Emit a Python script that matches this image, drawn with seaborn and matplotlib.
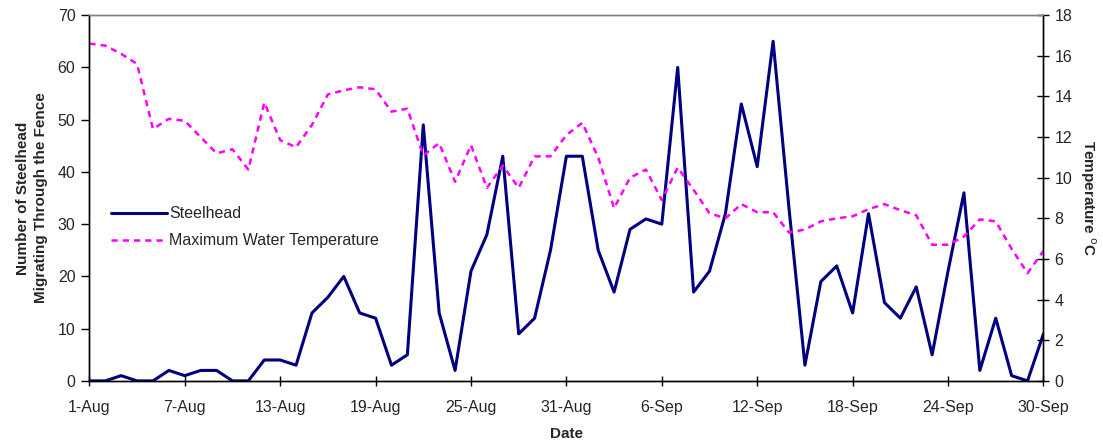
import matplotlib
matplotlib.use('Agg')
import matplotlib.pyplot as plt
import numpy as np
import pandas as pd
import seaborn as sns

# daily counts, 1-Aug .. 30-Sep
dates = pd.date_range('2001-08-01', '2001-09-30', freq='D')
steelhead = [0, 0, 1, 0, 0, 2, 1, 2, 2, 0,
             0, 4, 4, 3, 13, 16, 20, 13, 12, 3,
             5, 49, 13, 2, 21, 28, 43, 9, 12, 25,
             43, 43, 25, 17, 29, 31, 30, 60, 17, 21,
             32, 53, 41, 65, 33, 3, 19, 22, 13, 32,
             15, 12, 18, 5, 21, 36, 2, 12, 1, 0,
             9]
max_temp = [16.6, 16.5, 16.1, 15.6, 12.4, 12.9, 12.8, 12.0, 11.2, 11.4,
            10.4, 13.7, 11.85, 11.5, 12.6, 14.1, 14.3, 14.45, 14.35, 13.25,
            13.4, 11.1, 11.7, 9.8, 11.6, 9.5, 10.6, 9.5, 11.05, 11.05,
            12.1, 12.7, 11.0, 8.5, 10.0, 10.4, 8.9, 10.5, 9.4, 8.25,
            8.0, 8.7, 8.3, 8.3, 7.3, 7.45, 7.85, 8.0, 8.1, 8.45,
            8.7, 8.4, 8.15, 6.7, 6.7, 7.1, 7.95, 7.85, 6.5, 5.3,
            6.4]
tick_dates = pd.date_range('2001-08-01', '2001-09-30', freq='6D')
tick_labels = ['1-Aug', '7-Aug', '13-Aug', '19-Aug', '25-Aug', '31-Aug',
               '6-Sep', '12-Sep', '18-Sep', '24-Sep', '30-Sep']

df = pd.DataFrame({'date': dates, 'steelhead': steelhead, 'temp': max_temp})

sns.set_style('white')
plt.rcParams['font.family'] = ['Liberation Sans', 'DejaVu Sans']
plt.rcParams['font.size'] = 11.5

fig, ax = plt.subplots(figsize=(11.03, 4.46), dpi=100)
fig.subplots_adjust(left=0.081, right=0.946, top=0.966, bottom=0.146)
ax2 = ax.twinx()

sns.lineplot(data=df, x='date', y='steelhead', ax=ax, color='#000080',
             linewidth=2.2, label='Steelhead', legend=False)
sns.lineplot(data=df, x='date', y='temp', ax=ax2, color='#ff00ff',
             linewidth=1.8, linestyle=(0, (2.5, 2.0)), legend=False,
             label='Maximum Water Temperature')

ax.set_xlim(dates[0], dates[-1])
ax.set_ylim(0, 70)
ax.set_yticks(range(0, 71, 10))
ax2.set_ylim(0, 18)
ax2.set_yticks(range(0, 19, 2))
ax.set_xticks(tick_dates)
ax.set_xticklabels(tick_labels)

ax.set_xlabel('Date', fontweight='bold', fontsize=11, labelpad=9)
ax.set_ylabel('Number of Steelhead\nMigrating Through the Fence', fontweight='bold',
              fontsize=11, linespacing=1.35, labelpad=7)
ax2.set_ylabel('Temperature $^{\\mathrm{o}}$C', fontweight='bold', fontsize=11,
               rotation=-90, labelpad=18)

for a in (ax, ax2):
    for s in a.spines.values():
        s.set_color('black')
        s.set_linewidth(1.0)
ax.spines['top'].set_color('#808080')
ax2.spines['top'].set_color('#808080')

ax.tick_params(axis='y', direction='out', length=6, width=1, color='black', left=True, pad=4)
ax.tick_params(axis='x', direction='inout', length=7, width=1, color='black', bottom=True, pad=10)
ax2.tick_params(axis='y', direction='inout', length=8, width=1, color='black', right=True, pad=4)
ax.grid(False)
ax2.grid(False)

h1, l1 = ax.get_legend_handles_labels()
h2, l2 = ax2.get_legend_handles_labels()
ax.legend(h1 + h2, l1 + l2, loc='upper left', bbox_to_anchor=(0.016, 0.495),
          frameon=False, fontsize=11.5, handlelength=3.5, handletextpad=0.15,
          labelspacing=0.75, borderaxespad=0)

fig.savefig('out.png', dpi=100)
